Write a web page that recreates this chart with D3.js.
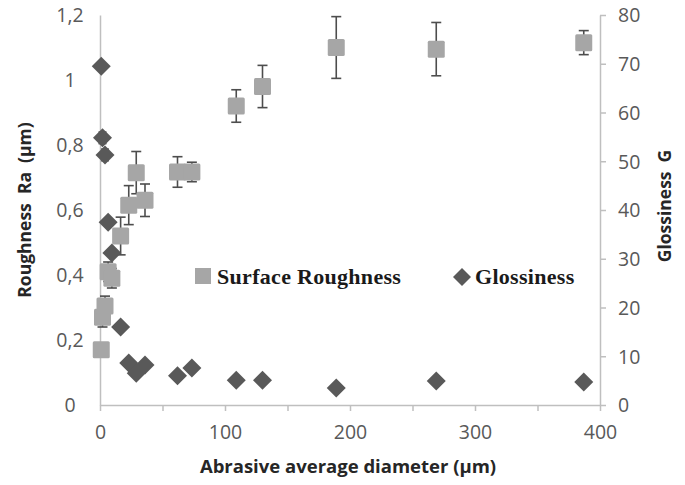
<!DOCTYPE html>
<html><head><meta charset="utf-8">
<script src="https://cdn.jsdelivr.net/npm/d3@7"></script>
<style>body{margin:0;background:#fff}svg{display:block}</style></head>
<body>
<svg id="chart" width="685" height="485"></svg>
<script>
// Abrasive average diameter (µm)
const diameters = [1, 2, 4, 6.5, 9.5, 16.5, 23, 29, 36, 62, 73.5, 109, 130, 189, 269, 387];
// Surface roughness Ra (µm) and its error
const roughness = [0.17, 0.27, 0.305, 0.41, 0.39, 0.52, 0.615, 0.715, 0.63, 0.717, 0.717, 0.92, 0.98, 1.10, 1.095, 1.115];
const roughnessErr = [0, 0.03, 0.03, 0.03, 0.03, 0.058, 0.06, 0.065, 0.05, 0.047, 0.03, 0.05, 0.065, 0.095, 0.082, 0.037];
// Glossiness G
const glossiness = [69.5, 54.8, 51.3, 37.5, 31.2, 16, 8.6, 6.5, 8.2, 6, 7.6, 5.1, 5.1, 3.5, 4.9, 4.7];
const glossinessErr = [0, 1.2, 1.2, 0, 0, 0, 0, 0, 0, 0, 0, 0, 0, 0, 0, 0];
// Tick values / labels
const xTicks = [0, 50, 100, 150, 200, 250, 300, 350, 400];
const xTickLabels = ["0", "", "100", "", "200", "", "300", "", "400"];
const yLeftTicks = [0, 0.2, 0.4, 0.6, 0.8, 1.0, 1.2];
const yLeftLabels = ["0", "0,2", "0,4", "0,6", "0,8", "1", "1,2"];
const yRightTicks = [0, 10, 20, 30, 40, 50, 60, 70, 80];
const legendLabels = ["Surface Roughness", "Glossiness"];

const svg = d3.select("#chart");
const L = 100, R = 600, T = 15, B = 405;
const x = d3.scaleLinear().domain([0, 400]).range([L, R]);
const yL = d3.scaleLinear().domain([0, 1.2]).range([B, T]);
const yR = d3.scaleLinear().domain([0, 80]).range([B, T]);

const axisCol = "#bfbfbf", labCol = "#595959";
const tickFont = "'Open Sans', sans-serif";

// Axes
const gx = svg.append("g").attr("transform", `translate(0,${B})`)
  .call(d3.axisBottom(x).tickValues(xTicks).tickSize(6).tickSizeOuter(0)
    .tickFormat((d, i) => xTickLabels[i]));
const gl = svg.append("g").attr("transform", `translate(${L},0)`)
  .call(d3.axisLeft(yL).tickValues(yLeftTicks).tickSize(0).tickSizeOuter(0)
    .tickFormat((d, i) => yLeftLabels[i]));
const gr = svg.append("g").attr("transform", `translate(${R},0)`)
  .call(d3.axisRight(yR).tickValues(yRightTicks).tickSize(6).tickSizeOuter(0));
[gx, gl, gr].forEach(g => {
  g.select(".domain").attr("stroke", axisCol).attr("stroke-width", 1.5);
  g.selectAll(".tick line").attr("stroke", axisCol).attr("stroke-width", 1.5);
  g.selectAll(".tick text").attr("fill", labCol).attr("font-family", tickFont).attr("font-size", 19.5);
});
gx.selectAll(".tick text").attr("y", 0).attr("dy", "1.72em");
gl.selectAll(".tick text").attr("text-anchor", "middle").attr("x", -30).attr("dy", "0.35em");
gr.selectAll(".tick text").attr("x", 18).attr("dy", "0.35em");

// Axis titles
const titleFont = "'Open Sans', sans-serif";
svg.append("text").attr("x", 348).attr("y", 473).attr("text-anchor", "middle")
  .attr("font-family", titleFont).attr("font-weight", "bold").attr("font-size", 18.5).attr("fill", "#262626")
  .text("Abrasive average diameter (µm)");
svg.append("text").attr("transform", "translate(31,210) rotate(-90)").attr("text-anchor", "middle")
  .attr("font-family", titleFont).attr("font-weight", "bold").attr("font-size", 17.5).attr("fill", "#262626")
  .style("white-space", "pre")
  .text("Roughness  Ra  (µm)");
svg.append("text").attr("transform", "translate(671,206) rotate(-90)").attr("text-anchor", "middle")
  .attr("font-family", titleFont).attr("font-weight", "bold").attr("font-size", 17.5).attr("fill", "#262626")
  .style("white-space", "pre")
  .text("Glossiness  G");

const sqCol = "#a6a6a6", dmCol = "#595959", errCol = "#4d4d4d";
const rData = diameters.map((d, i) => ({d, v: roughness[i], e: roughnessErr[i]}));
const gData = diameters.map((d, i) => ({d, v: glossiness[i], e: glossinessErr[i]}));

// Roughness error bars + squares
const rG = svg.append("g");
rData.filter(p => p.e > 0).forEach(p => {
  const cx = x(p.d), y1 = yL(p.v + p.e), y2 = yL(p.v - p.e);
  rG.append("line").attr("x1", cx).attr("x2", cx).attr("y1", y1).attr("y2", y2).attr("stroke", errCol).attr("stroke-width", 1.6);
  [y1, y2].forEach(yy => rG.append("line").attr("x1", cx - 5).attr("x2", cx + 5).attr("y1", yy).attr("y2", yy).attr("stroke", errCol).attr("stroke-width", 1.6));
});
const S = 17;
rG.selectAll("rect.sq").data(rData).enter().append("rect").attr("class", "sq")
  .attr("x", p => x(p.d) - S / 2).attr("y", p => yL(p.v) - S / 2)
  .attr("width", S).attr("height", S).attr("rx", 1.5).attr("fill", sqCol);

// Glossiness error bars + diamonds
const gG = svg.append("g");
gData.filter(p => p.e > 0).forEach(p => {
  const cx = x(p.d), y1 = yR(p.v + p.e), y2 = yR(p.v - p.e);
  gG.append("line").attr("x1", cx).attr("x2", cx).attr("y1", y1).attr("y2", y2).attr("stroke", errCol).attr("stroke-width", 1.4);
  [y1, y2].forEach(yy => gG.append("line").attr("x1", cx - 4).attr("x2", cx + 4).attr("y1", yy).attr("y2", yy).attr("stroke", errCol).attr("stroke-width", 1.4));
});
const D = 9.5;
const diamond = `M0,${-D}L${D},0L0,${D}L${-D},0Z`;
gG.selectAll("path.dm").data(gData).enter().append("path").attr("class", "dm")
  .attr("transform", p => `translate(${x(p.d)},${yR(p.v)})`).attr("d", diamond).attr("fill", dmCol);

// Legend
const lg = svg.append("g");
lg.append("rect").attr("x", 195).attr("y", 268).attr("width", 16).attr("height", 16).attr("fill", sqCol);
lg.append("text").attr("x", 217).attr("y", 284).attr("font-family", "'Liberation Serif', serif")
  .attr("font-weight", "bold").attr("font-size", 22).attr("letter-spacing", 0.3).attr("fill", "#1a1a1a").text(legendLabels[0]);
lg.append("path").attr("transform", "translate(462,277)").attr("d", `M0,-9L9,0L0,9L-9,0Z`).attr("fill", dmCol);
lg.append("text").attr("x", 475).attr("y", 284).attr("font-family", "'Liberation Serif', serif")
  .attr("font-weight", "bold").attr("font-size", 22).attr("letter-spacing", 0.3).attr("fill", "#1a1a1a").text(legendLabels[1]);
</script>
</body></html>
